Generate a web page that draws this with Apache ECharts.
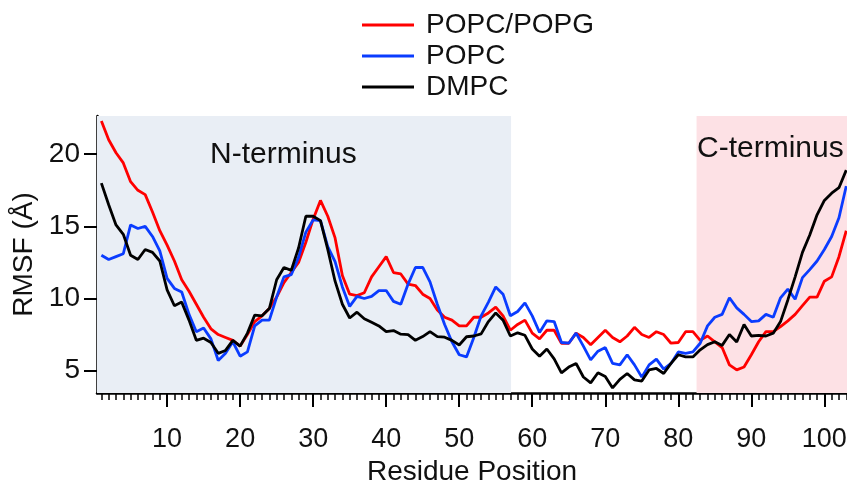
<!DOCTYPE html>
<html>
<head>
<meta charset="utf-8">
<script src="https://cdn.jsdelivr.net/npm/echarts@6/dist/echarts.min.js"></script>
<style>
html,body{margin:0;padding:0;background:#fff;}
#chart{width:847px;height:482px;}
</style>
</head>
<body>
<div id="chart"></div>
<script>
// Residue positions 1..103
const residues = [];
for (let i = 1; i <= 103; i++) residues.push(i);

const seriesNames = ['POPC/POPG', 'POPC', 'DMPC'];

const popcPopg = [22.3,21.0,20.1,19.4,18.1,17.5,17.2,16.0,14.7,13.7,
  12.6,11.3,10.5,9.6,8.7,7.9,7.5,7.3,7.1,6.7,
  7.5,8.4,8.8,9.3,10.1,11.1,11.8,12.5,13.9,15.5,
  16.8,15.7,14.2,11.6,10.3,10.2,10.4,11.5,12.2,12.9,
  11.8,11.7,11.0,10.9,10.3,10.0,9.2,8.7,8.5,8.1,
  8.1,8.7,8.7,9.0,9.4,8.8,7.8,8.2,8.5,7.6,
  7.2,7.8,7.8,6.9,6.9,7.6,7.3,6.8,7.3,7.8,
  7.3,7.0,7.4,8.0,7.5,7.3,7.7,7.5,6.9,6.95,
  7.7,7.7,7.1,7.4,7.0,6.6,5.4,5.05,5.25,6.1,
  7.0,7.7,7.7,8.05,8.45,8.9,9.5,10.1,10.1,11.2,
  11.5,12.9,14.7];

const popc = [13.0,12.7,12.9,13.1,15.1,14.85,15.0,14.3,13.3,11.4,
  10.7,10.45,8.9,7.7,7.95,7.2,5.7,6.2,7.0,6.0,
  6.3,8.1,8.5,8.5,10.1,11.5,11.65,12.85,14.6,15.45,
  15.4,13.6,12.55,10.8,9.45,10.15,10.0,10.15,10.55,10.55,
  9.8,9.6,11.0,12.15,12.15,11.15,9.6,8.2,7.0,6.1,
  5.95,7.3,8.8,9.75,10.8,10.3,8.8,9.1,9.7,8.8,
  7.65,8.45,8.4,6.95,6.9,7.6,6.7,5.75,6.35,6.6,
  5.5,5.4,6.1,5.4,4.55,5.4,5.8,5.1,5.5,6.3,
  6.2,6.3,6.9,8.1,8.7,8.9,10.05,9.35,8.9,8.4,
  8.45,8.9,8.7,10.05,10.65,9.95,11.45,12.0,12.6,13.4,
  14.3,15.6,17.8];

const dmpc = [18.0,16.5,15.1,14.45,13.0,12.7,13.4,13.2,12.6,10.6,
  9.5,9.75,8.5,7.1,7.25,6.95,6.2,6.4,7.1,6.7,
  7.6,8.85,8.8,9.3,11.3,12.15,11.95,13.5,15.7,15.7,
  15.4,13.4,11.2,9.6,8.65,9.05,8.6,8.35,8.1,7.7,
  7.78,7.53,7.5,7.1,7.36,7.7,7.36,7.32,7.1,6.78,
  7.35,7.4,7.55,8.4,9.0,8.5,7.4,7.62,7.45,6.5,
  6.0,6.5,5.82,4.85,5.25,5.5,4.56,4.15,4.85,4.6,
  3.8,4.4,4.8,4.36,4.28,5.05,5.15,4.8,5.5,6.1,
  5.95,5.95,6.44,6.8,7.0,6.75,7.5,6.98,8.2,7.4,
  7.45,7.4,7.6,8.4,9.9,11.5,13.2,14.4,15.8,16.8,
  17.3,17.68,18.9];

const xTickLabels = [10,20,30,40,50,60,70,80,90,100];
const yTickLabels = [5,10,15,20];
const regionNames = ['N-terminus', 'C-terminus'];
const nTermRange = [0.4, 57.1];
const cTermRange = [82.5, 103.1];

const minorTickValues = residues.slice();

function pairs(vals) { return residues.map((r, i) => [r, vals[i]]); }

const chart = echarts.init(document.getElementById('chart'), null, {renderer: 'canvas'});
const font = 'Arial, "Liberation Sans", sans-serif';

const option = {
  animation: false,
  backgroundColor: '#ffffff',
  grid: {left: 97, right: 0, top: 116, bottom: 89, containLabel: false, outerBoundsMode: 'none'},
  legend: {
    orient: 'vertical',
    left: 362,
    top: 11,
    padding: 0,
    itemWidth: 52,
    itemHeight: 3,
    itemGap: 3,
    icon: 'rect',
    data: seriesNames,
    textStyle: {fontSize: 28, fontFamily: font, color: '#111', padding: [0,0,0,7], lineHeight: 28}
  },
  xAxis: [{
    type: 'value',
    min: 0.4,
    max: 103.1,
    name: 'Residue Position',
    nameLocation: 'middle',
    nameGap: 61,
    nameTextStyle: {fontSize: 28, fontFamily: font, color: '#111'},
    axisLine: {show: true, lineStyle: {color: '#000', width: 2.5}},
    axisTick: {show: true, inside: false, length: 14, customValues: xTickLabels, lineStyle: {color: '#000', width: 2}},
    axisLabel: {show: true, customValues: xTickLabels, fontSize: 27, fontFamily: font, color: '#111', margin: 33},
    splitLine: {show: false}
  }, {
    type: 'value',
    min: 0.4,
    max: 103.1,
    position: 'bottom',
    axisLine: {show: false},
    axisTick: {show: true, inside: false, length: 7, customValues: minorTickValues, lineStyle: {color: '#000', width: 1.5}},
    axisLabel: {show: false},
    splitLine: {show: false}
  }],
  yAxis: {
    type: 'value',
    min: 3.45,
    max: 22.65,
    name: 'RMSF (Å)',
    nameLocation: 'middle',
    nameGap: 56,
    nameRotate: 90,
    nameTextStyle: {fontSize: 28, fontFamily: font, color: '#111'},
    axisLine: {show: true, lineStyle: {color: '#000', width: 2.5}},
    axisTick: {show: true, inside: false, length: 13, customValues: yTickLabels, lineStyle: {color: '#000', width: 2}},
    axisLabel: {show: true, customValues: yTickLabels, fontSize: 28, fontFamily: font, color: '#111', margin: 17},
    splitLine: {show: false}
  },
  graphic: {
    elements: [
      {type: 'text', x: 210, y: 140, z: 100, zlevel: 0, silent: true,
       style: {text: regionNames[0], fontSize: 30, fontFamily: font, fill: '#111'}},
      {type: 'text', x: 697, y: 134, z: 100, zlevel: 0, silent: true,
       style: {text: regionNames[1], fontSize: 30, fontFamily: font, fill: '#111'}}
    ]
  },
  series: [
    {
      name: seriesNames[0], type: 'line', xAxisIndex: 0, data: pairs(popcPopg),
      showSymbol: false, symbol: 'none', color: '#ff0000',
      lineStyle: {width: 2.8, color: '#ff0000'}, z: 3,
      markArea: {
        silent: true,
        data: [
          [{xAxis: nTermRange[0], itemStyle: {color: '#e9eef5'}}, {xAxis: nTermRange[1]}],
          [{xAxis: cTermRange[0], itemStyle: {color: '#fde1e5'}}, {xAxis: cTermRange[1]}]
        ]
      }
    },
    {
      name: seriesNames[1], type: 'line', xAxisIndex: 0, data: pairs(popc),
      showSymbol: false, symbol: 'none', color: '#0a3cff',
      lineStyle: {width: 2.8, color: '#0a3cff'}, z: 4
    },
    {
      name: seriesNames[2], type: 'line', xAxisIndex: 0, data: pairs(dmpc),
      showSymbol: false, symbol: 'none', color: '#000000',
      lineStyle: {width: 2.8, color: '#000000'}, z: 5
    }
  ]
};
chart.setOption(option);
</script>
</body>
</html>
